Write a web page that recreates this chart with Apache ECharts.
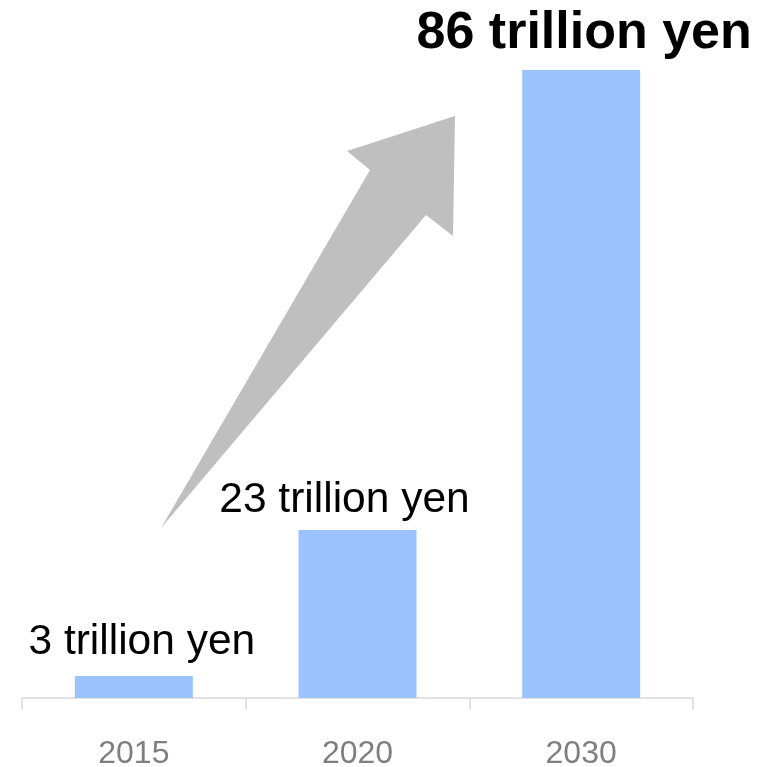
<!DOCTYPE html>
<html>
<head>
<meta charset="utf-8">
<script src="https://cdn.jsdelivr.net/npm/echarts@6/dist/echarts.min.js"></script>
<style>
  html, body { margin: 0; padding: 0; background: #fff; }
  #chart { width: 767px; height: 767px; }
</style>
</head>
<body>
<div id="chart"></div>
<script>
const years = ['2015', '2020', '2030']
const values = [3, 23, 86]
const labels = ['3 trillion yen', '23 trillion yen', '86 trillion yen']
const labelBold = [false, false, true]
const labelOffsets = [[8, 0], [-13, 4], [3, 2]]

const myChart = echarts.init(document.getElementById('chart'))

const option = {
    backgroundColor: '#fff',
    animation: false,
    grid: {
        left: 22,
        right: 74,
        top: 70,
        bottom: 69,
        outerBoundsMode: 'none',
    },
    xAxis: {
        type: 'category',
        data: years,
        axisLine: { lineStyle: { color: '#d9d9d9', width: 1.5 } },
        axisTick: { show: true, length: 12, lineStyle: { color: '#d9d9d9', width: 1.5 } },
        axisLabel: {
            color: '#7f7f7f',
            fontSize: 32,
            fontFamily: 'Liberation Sans, Arial, sans-serif',
            margin: 40,
        },
    },
    yAxis: {
        type: 'value',
        min: 0,
        max: 86,
        show: false,
    },
    // 上升箭头
    graphic: [
        {
            type: 'polygon',
            z: 1,
            shape: {
                points: [[161, 528], [370, 170], [347, 151], [455, 116], [453, 236], [426, 215]]
            },
            style: { fill: '#bfbfbf' }
        }
    ],
    series: [
        {
            type: 'bar',
            barWidth: 118,
            z: 2,
            itemStyle: { color: '#9dc3fe' },
            data: values.map((v, i) => ({
                value: v,
                label: {
                    show: true,
                    position: 'top',
                    distance: 12,
                    offset: labelOffsets[i],
                    formatter: labels[i],
                    color: '#000',
                    fontSize: labelBold[i] ? 52 : 42.5,
                    fontWeight: labelBold[i] ? 'bold' : 'normal',
                    fontFamily: 'Liberation Sans, Arial, sans-serif',
                }
            })),
        }
    ]
}

option && myChart.setOption(option)
</script>
</body>
</html>
